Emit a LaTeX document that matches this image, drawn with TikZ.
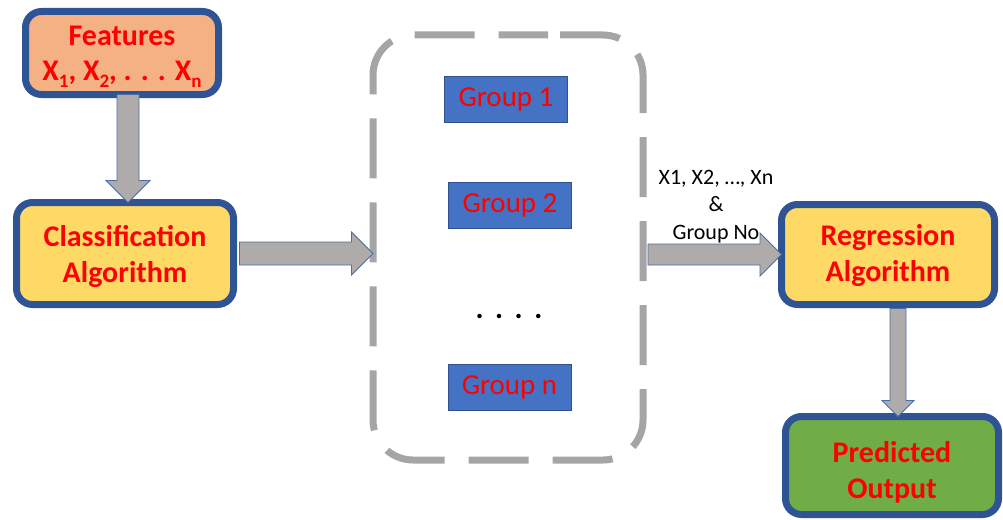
\documentclass[tikz,border=0pt]{standalone}
\usepackage{fontspec}
\setmainfont{Carlito}
\usetikzlibrary{calc}

\definecolor{edgeblue}{HTML}{2F5496}
\definecolor{peach}{HTML}{F4B183}
\definecolor{gold}{HTML}{FFD966}
\definecolor{leaf}{HTML}{70AD47}
\definecolor{groupblue}{HTML}{4472C4}
\definecolor{groupedge}{HTML}{2F528F}
\definecolor{arrowgray}{HTML}{AFABAB}
\definecolor{arrowedge}{HTML}{4A6FA5}
\definecolor{dashgray}{HTML}{A5A5A5}
\definecolor{txtred}{HTML}{FF0000}

\newcommand\lowidx[1]{\raisebox{-0.2em}{\fontsize{19}{19}\selectfont #1}}
% two centred lines; the first baseline sits #1 above the node centre
\newcommand\twolines[3]{\raisebox{#1}[0pt][0pt]{\begin{tabular}[t]{@{}c@{}}#2\\#3\end{tabular}}}

\tikzset{
  stagebox/.style={draw=edgeblue, line width=7pt, rounded corners=16pt,
    inner sep=0pt, outer sep=0pt, text=txtred,
    font=\fontsize{30}{36}\selectfont\bfseries},
  groupbox/.style={draw=groupedge, fill=groupblue, line width=0.8pt,
    minimum width=123pt, minimum height=46pt, inner sep=0pt, outer sep=0pt,
    text=txtred, font=\fontsize{29}{30}\selectfont},
  blockarrow/.style={fill=arrowgray, draw=arrowedge, line width=0.8pt, line join=miter},
  % downward block arrow: #1 = half shaft width, #2 = half head width (= head length)
  vblock/.style 2 args={blockarrow, to path={
    let \p1=(\tikztostart), \p2=(\tikztotarget) in
    (\x1-#1,\y1) -- (\x1-#1,\y2+#2) -- (\x1-#2,\y2+#2) -- (\x1,\y2)
    -- (\x1+#2,\y2+#2) -- (\x1+#1,\y2+#2) -- (\x1+#1,\y1) -- cycle}},
  % rightward block arrow
  hblock/.style 2 args={blockarrow, to path={
    let \p1=(\tikztostart), \p2=(\tikztotarget) in
    (\x1,\y1+#1) -- (\x2-#2,\y1+#1) -- (\x2-#2,\y1+#2) -- (\x2,\y1)
    -- (\x2-#2,\y1-#2) -- (\x2-#2,\y1-#1) -- (\x1,\y1-#1) -- cycle}},
}

\begin{document}
\begin{tikzpicture}[x=1pt, y=-1pt]
\useasboundingbox (0,0) rectangle (1003,519);

% processing stages
\node[stagebox, fill=peach, minimum width=193pt, minimum height=83pt]
  (feat) at (122,53)
  {\twolines{8pt}{Features}{X\lowidx{1}, X\lowidx{2}, . . . X\lowidx{n}}};
\node[stagebox, fill=gold, minimum width=217pt, minimum height=102pt]
  (cls) at (125,253.5) {\twolines{7.5pt}{Classification}{Algorithm}};
\node[stagebox, fill=gold, minimum width=213pt, minimum height=100pt]
  (reg) at (888,254.5) {\twolines{9.5pt}{Regression}{Algorithm}};
\node[stagebox, fill=leaf, minimum width=213pt, minimum height=98pt]
  (pred) at (892,465.5) {\twolines{3.5pt}{Predicted}{Output}};

% container holding the groups
\node[minimum width=270pt, minimum height=425pt, inner sep=0pt, outer sep=0pt]
  (box) at (508,247.5) {};
\draw[dashgray, line width=7pt, dash pattern=on 60pt off 24pt, dash phase=72pt,
      rounded corners=40pt]
  (box.north) -- (box.north east) -- (box.south east) -- (box.south west)
  -- (box.north west) -- cycle;

\node[groupbox] (g1) at (506,99.5) {Group 1};
\node[groupbox] (g2) at (510,205) {Group 2};
\node[font=\fontsize{30}{30}\selectfont\bfseries] (dots) at (509,316)
  {.\hspace{11.5pt}.\hspace{11.5pt}.\hspace{11.5pt}.};
\node[groupbox] (gn) at (509.5,387.5) {Group n};

% flow arrows
\draw[vblock={11pt}{22pt}] ([xshift=6pt]feat.south) to ([xshift=6pt]cls.north);
\draw[hblock={11.5pt}{21.5pt}] ([xshift=6pt]cls.east) to (box.east -| box.west);
\coordinate (boxout) at ([xshift=5pt]box.east);
\draw[hblock={10.5pt}{21.5pt}] (boxout |- reg.west) to (reg.west);
\draw[vblock={8pt}{16pt}] ([shift={(10pt,-4pt)}]reg.south) to ([xshift=6pt]pred.north);

% data passed on to the regression stage
\node[align=center, font=\fontsize{22}{27.5}\selectfont, inner sep=0pt] (lbl)
  at (716,206.5) {X1, X2, …, Xn\\\&\\Group No};
\end{tikzpicture}
\end{document}
